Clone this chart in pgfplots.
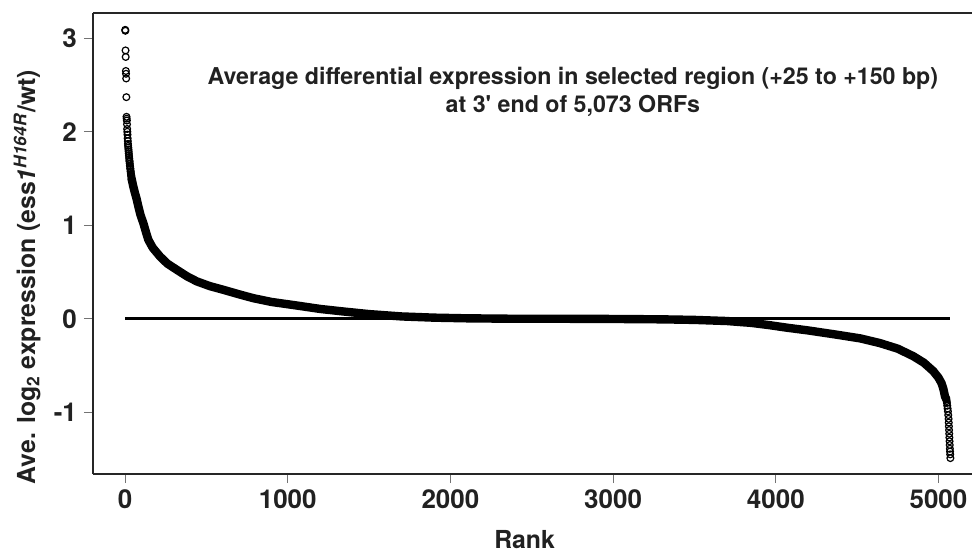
\documentclass[border=0pt]{standalone}
\usepackage{fontspec}
\setmainfont{TeX Gyre Heros}
\usepackage{pgfplots}
\pgfplotsset{compat=1.18}
\begin{document}
\begin{tikzpicture}
\begin{axis}[
  name=ax,
  scale only axis,
  width=439.5pt, height=230.5pt,
  xmin=-197, xmax=5206, ymin=-1.66, ymax=3.27,
  axis x line*=bottom, axis y line*=left,
  axis line style={line width=1pt, color=black!85},
  xtick={0,1000,2000,3000,4000,5000},
  xticklabels={0,1000,2000,3000,4000,5000},
  ytick={-1,0,1,2,3},
  yticklabels={-1,0,1,2,3},
  tick align=outside,
  major tick length=4.5pt,
  tick style={black!55, line width=0.5pt},
  ticklabel style={font=\fontsize{13}{15}\selectfont\bfseries, text=black!87},
  xlabel={Rank},
  ylabel={Ave. log\textsubscript{2} expression (ess\textit{1}\textsuperscript{\textit{H164R}}/wt)},
  label style={font=\fontsize{12.4}{14}\selectfont\bfseries, text=black!87},
  xlabel style={at={(axis description cs:0.491,-0.143)}, anchor=center},
  ylabel style={at={(axis description cs:-0.075,0.427)}, anchor=center},
  clip=false,
]
\draw[line width=1pt, black!85] (rel axis cs:0,1) -- (rel axis cs:1,1);
\addplot[line width=4.2pt, black, line join=round, line cap=round] coordinates {
(40,1.50)(50,1.42)(60,1.35)(70,1.29)(82,1.20)(95,1.11)(113,1.02)(128,0.93)(143,0.845)(170,0.76)(215,0.666)(260,0.59)(318,0.524)(380,0.455)(441,0.40)(520,0.35)(604,0.31)(700,0.262)(789,0.22)(900,0.18)(1055,0.142)(1200,0.105)(1342,0.078)(1500,0.05)(1700,0.025)(1900,0.012)(2100,0.005)(2400,0.0)(2700,0.0)(3000,-0.002)(3300,-0.006)(3500,-0.012)(3700,-0.024)(3850,-0.044)(3960,-0.068)(4067,-0.095)(4200,-0.125)(4374,-0.17)(4520,-0.21)(4640,-0.26)(4750,-0.32)(4845,-0.40)(4910,-0.47)(4968,-0.56)(5000,-0.63)(5019,-0.69)(5030,-0.75)(5040,-0.83)(5048,-0.86)
};
\addplot[only marks, mark=o, mark size=1.7pt, mark options={line width=0.6pt}, black] coordinates {
(1,3.09)(2,3.08)(3,2.87)(4,2.80)(5,2.65)(6,2.62)(7,2.57)(8,2.37)(9,2.16)(10,2.14)(11,2.12)(12,2.08)(13,2.03)(14,2.00)(15,1.97)(16,1.93)(17,1.90)(18,1.87)(19,1.85)(20,1.83)(21,1.81)(22,1.79)(23,1.77)(24,1.75)(25,1.73)(26,1.71)(27,1.69)(28,1.68)(29,1.66)(30,1.64)(31,1.63)(32,1.61)(33,1.60)(34,1.58)(35,1.57)(36,1.55)(37,1.54)(38,1.53)(39,1.52)(40,1.50)
(5048,-0.86)(5050,-0.88)(5052,-0.90)(5054,-0.93)(5056,-0.96)(5058,-0.99)(5060,-1.03)(5062,-1.07)(5063,-1.11)(5064,-1.15)(5065,-1.19)(5066,-1.23)(5067,-1.27)(5068,-1.31)(5069,-1.35)(5070,-1.39)(5071,-1.42)(5072,-1.45)(5073,-1.49)
};
\addplot[line width=1.3pt, black] coordinates {(0,0) (5073,0)};
\node[align=center, font=\fontsize{11.6}{14}\selectfont\bfseries, text=black!87] at (axis cs:2753,2.43) {Average differential expression in selected region (+25 to +150 bp)\\at 3\textquotesingle{} end of 5,073 ORFs};
\end{axis}
\pgfresetboundingbox
\path[use as bounding box] ([xshift=-46.5pt,yshift=-41.5pt]ax.south west) rectangle ([yshift=6.5pt]ax.north east);
\end{tikzpicture}
\end{document}
